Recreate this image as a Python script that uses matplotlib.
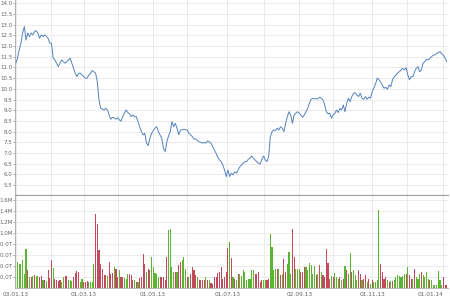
import numpy as np
import matplotlib
matplotlib.use("Agg")
import matplotlib.pyplot as plt

# daily close price
price = [11.21, 11.44, 11.82, 12.14, 12.61, 12.91, 12.28, 12.61, 12.44, 12.61,
         12.52, 12.67, 12.72, 12.60, 12.36, 12.52, 12.44, 12.52, 12.44, 12.36,
         12.13, 12.13, 11.43, 11.35, 11.20, 11.04, 11.20, 11.35, 11.27, 11.20,
         11.27, 11.35, 11.43, 11.20, 10.96, 10.73, 10.57, 10.73, 10.73, 10.65,
         10.57, 10.50, 10.50, 10.65, 10.73, 10.85, 10.80, 10.73, 10.34, 9.48,
         9.09, 9.06, 9.01, 9.09, 9.01, 8.78, 8.58, 8.67, 8.65, 8.58,
         8.65, 8.55, 8.49, 8.70, 8.87, 9.01, 8.89, 8.83, 8.70, 8.78,
         8.69, 8.70, 8.47, 8.23, 8.00, 7.85, 7.92, 7.46, 7.35, 7.69,
         7.92, 8.05, 8.16, 8.23, 8.00, 7.85, 7.69, 7.22, 7.07, 7.53,
         7.80, 8.00, 8.47, 8.23, 8.39, 8.16, 7.85, 8.08, 8.08, 8.11,
         8.08, 8.08, 7.92, 7.85, 7.77, 7.65, 7.66, 7.58, 7.53, 7.50,
         7.46, 7.50, 7.46, 7.57, 7.53, 7.46, 7.30, 7.14, 6.99, 6.80,
         6.68, 6.60, 6.44, 6.21, 5.90, 6.21, 5.90, 6.06, 5.98, 6.13,
         6.06, 6.21, 6.36, 6.44, 6.52, 6.60, 6.60, 6.71, 6.76, 6.86,
         6.76, 6.68, 6.60, 6.52, 6.49, 6.71, 6.86, 6.68, 6.60, 6.83,
         7.77, 8.00, 8.08, 8.05, 8.16, 8.08, 8.23, 8.16, 8.00, 8.39,
         8.70, 8.93, 8.78, 8.39, 8.78, 8.86, 8.93, 8.86, 8.78, 8.67,
         8.78, 8.93, 9.09, 9.33, 9.51, 9.56, 9.53, 9.54, 9.53, 9.61,
         9.56, 9.48, 9.25, 8.93, 8.83, 8.86, 8.63, 8.78, 8.86, 9.01,
         8.89, 9.09, 9.01, 9.25, 8.93, 9.33, 9.56, 9.40, 9.64, 9.79,
         9.82, 9.71, 9.64, 9.79, 9.56, 9.51, 9.64, 9.51, 9.61, 9.56,
         9.85, 10.04, 10.23, 10.50, 10.42, 10.32, 10.18, 10.03, 10.07, 9.98,
         10.18, 10.10, 10.42, 10.56, 10.65, 10.74, 10.80, 10.88, 10.96, 10.88,
         10.99, 10.65, 10.42, 10.57, 10.56, 10.80, 10.96, 11.04, 10.80, 10.88,
         11.20, 11.27, 11.38, 11.35, 11.43, 11.50, 11.58, 11.58, 11.66, 11.69,
         11.74, 11.63, 11.58, 11.43, 11.27]

# daily volume, thousands
volume = [217, 470, 434, 434, 507, 253, 706, 326, 199, 199,
          217, 235, 217, 217, 199, 217, 145, 145, 127, 326,
          181, 507, 362, 163, 145, 127, 145, 109, 199, 217,
          217, 145, 145, 127, 199, 272, 308, 290, 109, 163,
          109, 109, 127, 109, 109, 109, 434, 1340, 1158, 688,
          434, 344, 235, 235, 217, 470, 253, 272, 380, 344,
          199, 326, 199, 199, 181, 163, 253, 253, 235, 145,
          145, 109, 109, 181, 199, 615, 434, 290, 344, 326,
          561, 380, 272, 253, 199, 199, 199, 199, 145, 561,
          1050, 1068, 380, 290, 290, 290, 416, 470, 507, 561,
          344, 199, 199, 253, 380, 326, 235, 199, 145, 145,
          145, 145, 199, 145, 145, 90, 72, 199, 199, 272,
          290, 380, 163, 199, 290, 724, 833, 543, 199, 163,
          145, 253, 253, 217, 326, 290, 145, 163, 163, 326,
          326, 253, 253, 290, 109, 145, 145, 145, 145, 163,
          977, 742, 326, 344, 344, 344, 235, 253, 525, 290,
          434, 652, 253, 1068, 561, 344, 344, 344,
          290, 290, 380, 380, 326, 452, 416, 253, 398, 235,
          253, 416, 290, 235, 199, 706, 452, 163, 217, 199,
          272, 199, 163, 199, 145, 163, 398, 326, 253, 633,
          290, 326, 235, 145, 326, 253, 145, 163, 235, 109,
          163, 72, 145, 109, 109, 145, 1412, 434, 290, 163,
          199, 145, 109, 127, 127, 145, 199, 235, 217, 199,
          217, 253, 253, 380, 235, 163, 163, 344, 199, 163,
          253, 290, 235, 199, 290, 163, 145, 145, 54, 54,
          54, 308, 145, 54, 199, 54, 54]

# month boundaries (trading day index) and labels
month_pos = [0, 20.6, 40, 60, 80.6, 101, 124.7, 146, 167, 187, 210, 230.6, 251.8]
month_lbl = ["03.01.13", "", "01.03.13", "", "01.05.13", "", "01.07.13", "",
             "02.09.13", "", "01.11.13", "", "01.01.14"]

price_ticks = np.arange(5.5, 14.01, 0.5)
vol_ticks = [200, 400, 600, 800, 1000, 1200, 1400, 1600]
vol_lbl = ["200.0T", "400.0T", "600.0T", "800.0T", "1.0M", "1.2M", "1.4M", "1.6M"]

W, H = 450, 300
fig = plt.figure(figsize=(4.5, 3), dpi=100)
fig.patch.set_facecolor("white")

def frac(x0, y0, x1, y1):
    return [x0 / W, 1 - y1 / H, (x1 - x0) / W, (y1 - y0) / H]

ax1 = fig.add_axes(frac(15, 0, 448, 195))
ax2 = fig.add_axes(frac(15, 196, 448, 288))

x = np.arange(len(price))
n = len(price)

# bar colour follows the previous session's move
chg = np.diff(price, prepend=price[0])
up = np.roll(chg, 1) >= 0
cols = np.where(up, "#5cb531", "#c24a5c")

ax1.plot(x, price, color="#5583bb", lw=0.7)
ax1.set_ylim(5.04, 14.15)
ax1.set_yticks(price_ticks)
ax1.set_yticklabels(["%.1f" % v for v in price_ticks])

ax2.bar(x, volume, width=0.65, color=cols, linewidth=0)
ax2.set_ylim(0, 1665)
ax2.set_yticks(vol_ticks)
ax2.set_yticklabels(vol_lbl)

for ax in (ax1, ax2):
    ax.set_xlim(-0.5, n - 0.3)
    ax.set_xticks(month_pos)
    ax.grid(True, color="#ebebeb", lw=0.7)
    ax.set_axisbelow(True)
    for s in ("top", "right"):
        ax.spines[s].set_visible(False)
    ax.spines["left"].set_color("#b0b0b0")
    ax.spines["left"].set_linewidth(0.7)
    ax.tick_params(axis="y", labelsize=4.0, colors="#999999", length=1.5,
                   width=0.6, pad=0.5, labelcolor="#666666")
    ax.tick_params(axis="x", length=0)

ax1.spines["bottom"].set_color("#a0a0a0")
ax1.spines["bottom"].set_linewidth(0.9)
ax1.set_xticklabels([])

ax2.spines["bottom"].set_color("#b0b0b0")
ax2.spines["bottom"].set_linewidth(0.6)
ax2.set_xticklabels(month_lbl)
ax2.tick_params(axis="x", labelsize=4.2, labelcolor="#666666", pad=3)
ax2.get_xticklabels()[-1].set_horizontalalignment("right")
ax2.get_xticklabels()[-1].set_x(n - 0.3)

fig.savefig("out.png", dpi=100)
